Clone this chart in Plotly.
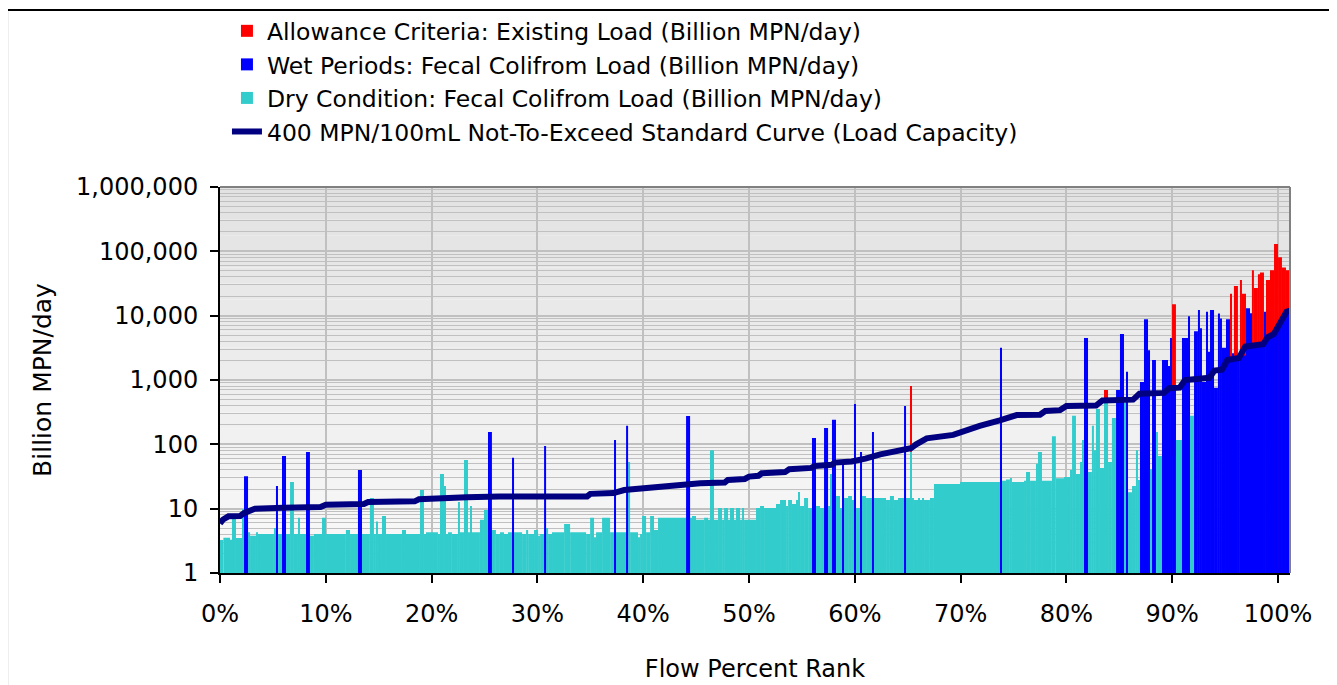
import plotly.graph_objects as go

# Flow percent rank ranges (start %, end %) and load in Billion MPN/day
DRY = [
    (0.00, 0.32, 3.26), (0.32, 0.95, 3.54), (0.95, 1.13, 3.3), (1.13, 1.51, 7.1),
    (1.51, 2.08, 3.5), (2.08, 2.27, 9.8), (2.27, 2.65, 4.0), (2.65, 2.84, 4.3),
    (2.84, 3.40, 3.8), (3.40, 3.59, 4.3), (3.59, 5.10, 4.05), (5.10, 5.29, 5.0),
    (5.29, 6.62, 4.05), (6.62, 6.99, 26), (6.99, 7.37, 4.05), (7.37, 7.56, 7.2),
    (7.56, 8.50, 4.05), (8.50, 8.88, 3.8), (8.88, 9.64, 4.05), (9.64, 10.02, 7.2),
    (10.02, 11.90, 4.05), (11.90, 12.29, 4.65), (12.29, 14.17, 4.05), (14.17, 14.55, 14.6),
    (14.55, 14.74, 4.05), (14.74, 14.93, 6.3), (14.93, 15.31, 4.05), (15.31, 15.69, 7.7),
    (15.69, 17.20, 4.05), (17.20, 17.58, 4.65), (17.58, 18.90, 4.05), (18.90, 19.28, 19.5),
    (19.28, 19.47, 4.05), (19.47, 20.60, 4.3), (20.60, 20.79, 4.05), (20.79, 21.17, 34.5),
    (21.17, 21.36, 22.5), (21.36, 21.55, 4.05), (21.55, 21.92, 4.3), (21.92, 22.49, 4.05),
    (22.49, 22.68, 12.7), (22.68, 23.06, 4.3), (23.06, 23.44, 57), (23.44, 23.63, 4.3),
    (23.63, 23.81, 11), (23.81, 24.57, 4.3), (24.57, 24.95, 6.7), (24.95, 25.33, 9.5),
    (25.33, 25.70, 4.3), (25.70, 26.08, 4.65), (26.08, 26.46, 4.05), (26.46, 26.84, 4.3),
    (26.84, 27.22, 4.05), (27.22, 28.55, 4.3), (28.55, 28.93, 4.05), (28.93, 29.12, 4.65),
    (29.12, 29.68, 4.05), (29.68, 30.06, 4.65), (30.06, 30.25, 3.8), (30.25, 30.82, 4.05),
    (30.82, 31.01, 5.0), (31.01, 31.38, 4.05), (31.38, 32.52, 4.3), (32.52, 33.09, 5.8),
    (33.09, 34.60, 4.3), (34.60, 34.98, 4.05), (34.98, 35.35, 7.2), (35.35, 35.54, 3.6),
    (35.54, 36.11, 4.3), (36.11, 36.87, 7.2), (36.87, 38.57, 4.3), (38.57, 38.76, 53),
    (38.76, 39.51, 4.3), (39.51, 39.70, 3.6), (39.70, 39.89, 4.05), (39.89, 40.27, 7.7),
    (40.27, 40.65, 4.3), (40.65, 41.02, 7.7), (41.02, 41.40, 4.65), (41.40, 44.61, 7.2),
    (44.61, 44.99, 7.7), (44.99, 45.75, 6.7), (45.75, 46.13, 7.2), (46.13, 46.31, 6.7),
    (46.31, 46.69, 81), (46.69, 47.07, 6.7), (47.07, 47.45, 10.2), (47.45, 47.64, 6.7),
    (47.64, 48.02, 10.2), (48.02, 48.20, 6.7), (48.20, 48.58, 10.2), (48.58, 48.77, 6.7),
    (48.77, 49.15, 10.2), (49.15, 49.34, 6.7), (49.34, 49.53, 10.2), (49.53, 50.66, 6.7),
    (50.66, 51.04, 10.2), (51.04, 51.42, 11), (51.42, 52.55, 10.2), (52.55, 52.93, 11.8),
    (52.93, 53.50, 13.6), (53.50, 53.69, 11), (53.69, 54.06, 13.6), (54.06, 54.44, 11.8),
    (54.44, 54.63, 13.6), (54.63, 54.82, 18.2), (54.82, 55.20, 11), (55.20, 55.58, 14.6),
    (55.58, 56.33, 10.2), (56.33, 56.71, 11), (56.71, 57.47, 10.2), (57.47, 57.66, 11),
    (57.66, 57.84, 34.5), (57.84, 58.60, 15.8), (58.60, 58.98, 10.2), (58.98, 59.36, 14.6),
    (59.36, 59.73, 15.8), (59.73, 60.11, 13.6), (60.11, 60.49, 10.2), (60.49, 61.06, 15.8),
    (61.06, 62.95, 14.6), (62.95, 63.32, 13.6), (63.32, 63.70, 15.8), (63.70, 64.08, 13.6),
    (64.08, 65.22, 14.6), (65.22, 65.40, 77), (65.40, 65.59, 14.6), (65.59, 65.97, 13.6),
    (65.97, 66.16, 14.6), (66.16, 66.35, 13.6), (66.35, 66.54, 14.6), (66.54, 67.10, 13.6),
    (67.10, 67.48, 14.6), (67.48, 69.94, 24.2), (69.94, 73.91, 26), (73.91, 74.29, 27.2),
    (74.29, 74.66, 28.4), (74.66, 74.85, 30), (74.85, 75.99, 26), (75.99, 76.18, 27.2),
    (76.18, 76.56, 37), (76.56, 77.12, 27.2), (77.12, 77.31, 50), (77.31, 77.69, 76),
    (77.69, 78.63, 27.2), (78.63, 79.00, 134), (79.00, 79.77, 29.7), (79.77, 80.34, 31),
    (80.34, 80.53, 40), (80.53, 80.90, 277), (80.90, 81.28, 34.5), (81.28, 81.47, 53),
    (81.47, 81.66, 117), (81.66, 82.41, 37), (82.41, 82.60, 194), (82.60, 82.79, 81),
    (82.79, 83.17, 355), (83.17, 83.55, 43), (83.55, 83.93, 490), (83.93, 84.30, 53),
    (84.30, 85.44, 256), (85.44, 85.82, 440), (85.82, 86.20, 18), (86.20, 86.57, 22.5),
    (86.57, 86.76, 81), (86.76, 87.90, 28), (87.90, 88.46, 41), (88.46, 88.65, 156),
    (88.65, 90.35, 66), (90.35, 91.68, 117), (91.68, 92.06, 277),
]

WET = [
    (2.27, 2.65, 32), (5.29, 5.48, 22.5), (5.86, 6.24, 66), (8.13, 8.50, 76),
    (13.04, 13.42, 40), (25.33, 25.70, 156), (27.60, 27.79, 62), (30.63, 30.82, 94),
    (37.24, 37.43, 117), (38.38, 38.57, 194), (44.05, 44.43, 276), (55.95, 56.33, 125),
    (57.09, 57.47, 180), (57.84, 58.22, 240), (58.79, 58.98, 50), (59.92, 60.11, 425),
    (60.49, 60.68, 76), (61.62, 61.81, 156), (64.65, 64.84, 394), (73.72, 73.91, 3160),
    (81.66, 82.04, 4500), (84.69, 85.06, 700), (85.06, 85.44, 5200), (85.63, 85.82, 1340),
    (86.95, 87.33, 930), (87.33, 87.71, 8800), (87.71, 87.90, 2900), (88.09, 88.46, 2050),
    (89.03, 89.60, 2050), (89.60, 89.79, 1650), (89.79, 89.98, 4500), (89.98, 90.35, 790),
    (90.92, 91.49, 4500), (91.49, 91.68, 9800), (92.06, 92.43, 5700), (92.43, 92.62, 12300),
    (92.62, 92.81, 6400), (92.81, 93.19, 930), (93.19, 93.38, 11500), (93.38, 93.57, 2750),
    (93.57, 93.95, 12300), (93.95, 94.32, 760), (94.32, 94.51, 10800), (94.51, 94.70, 9000),
    (94.70, 95.08, 3160), (95.08, 95.46, 8800), (95.46, 95.65, 2100), (95.65, 95.83, 2600),
    (95.83, 96.21, 2200), (96.21, 96.40, 2500), (96.40, 96.97, 2400), (96.97, 97.35, 13000),
    (97.35, 97.53, 10900), (97.53, 98.67, 3500), (98.67, 98.86, 11500), (98.86, 99.62, 4800),
    (99.62, 100.00, 6500), (100.00, 100.37, 8500), (100.37, 100.75, 10500),
    (100.75, 101.13, 11800),
]

EXISTING = [
    (65.22, 65.40, 810), (83.55, 83.93, 700), (89.98, 90.35, 15000),
    (95.46, 95.65, 22000), (95.83, 96.21, 29000), (96.40, 96.59, 36000),
    (96.59, 96.97, 22000), (97.53, 97.72, 51000), (97.72, 98.10, 27000),
    (98.10, 98.29, 44000), (98.29, 98.67, 47000), (98.86, 99.24, 36000),
    (99.24, 99.62, 51000), (99.62, 100.00, 130000), (100.00, 100.37, 81000),
    (100.37, 100.75, 56000), (100.75, 101.13, 51000),
]

CURVE_PCT = [
    0.0, 0.3, 0.8, 1.9, 2.3, 2.9, 3.3, 6.0, 9.5, 10.0, 13.6, 14.0, 18.4, 18.8,
    22.9, 23.3, 26.4, 34.7, 35.0, 37.2, 38.2, 39.8, 40.2, 42.1, 42.3, 45.0, 45.4,
    47.7, 48.0, 49.6, 50.0, 50.9, 51.2, 53.4, 53.8, 55.9, 56.2, 57.8, 58.1, 59.7,
    60.0, 61.0, 62.4, 63.0, 64.9, 65.3, 65.8, 66.8, 69.3, 69.8, 71.2, 71.8, 73.7,
    75.3, 77.5, 78.0, 79.4, 80.0, 82.8, 83.4, 86.3, 86.9, 89.2, 89.7, 90.7, 91.2,
    93.5, 94.0, 94.7, 95.2, 96.3, 96.9, 98.6, 99.0, 99.6, 100.0, 100.5, 100.8, 101.13,
]
CURVE_LOAD = [
    5.9, 6.8, 7.6, 7.7, 8.6, 9.6, 10.0, 10.3, 10.6, 11.5, 11.8, 12.7, 13.0, 14.0,
    14.3, 15.0, 15.4, 15.5, 17.0, 17.5, 19.5, 20.5, 21.5, 22.5, 23.2, 24.0, 24.8,
    25.5, 28, 29, 31.5, 32.5, 35.5, 37, 41, 43, 46, 48, 52, 54,
    56, 60, 70, 74, 84, 87, 100, 124, 140, 150, 189, 194, 236,
    285, 288, 330, 340, 394, 400, 480, 495, 610, 630, 745, 760, 1000,
    1080, 1400, 1450, 2050, 2200, 3300, 3600, 4600, 5200, 7000, 10000, 11500, 12000,
]

Y_TICKS = [1, 10, 100, 1000, 10000, 100000, 1000000]
Y_TICK_TEXT = ["1", "10", "100", "1,000", "10,000", "100,000", "1,000,000"]
X_TICKS = [0, 10, 20, 30, 40, 50, 60, 70, 80, 90, 100]
X_TICK_TEXT = ["0%", "10%", "20%", "30%", "40%", "50%", "60%", "70%", "80%", "90%", "100%"]

FONT = "DejaVu Sans"
GRID = "#c0c0c0"


def _bars(segments, name, color, rank):
    return go.Bar(
        x=[(a + b) / 2 for a, b, _ in segments],
        y=[v for _, _, v in segments],
        width=[b - a for a, b, _ in segments],
        name=name,
        marker=dict(color=color, line=dict(width=0)),
        legendrank=rank,
    )


fig = go.Figure()
fig.add_trace(_bars(EXISTING, "Allowance Criteria: Existing Load (Billion MPN/day)", "#FF0000", 1))
fig.add_trace(_bars(DRY, "Dry Condition: Fecal Colifrom Load (Billion MPN/day)", "#33CCCC", 3))
fig.add_trace(_bars(WET, "Wet Periods: Fecal Colifrom Load (Billion MPN/day)", "#0000FF", 2))
fig.add_trace(
    go.Scatter(
        x=CURVE_PCT,
        y=CURVE_LOAD,
        mode="lines",
        name="400 MPN/100mL Not-To-Exceed Standard Curve (Load Capacity)",
        line=dict(color="#000080", width=6),
        legendrank=4,
    )
)

# grey-to-white plot background
bands = 24
shapes = []
for i in range(bands):
    t = i / (bands - 1)
    c = int(226 + (250 - 226) * t)
    shapes.append(
        dict(
            type="rect", xref="x domain", yref="y domain",
            x0=0, x1=1, y0=1 - (i + 1) / bands, y1=1 - i / bands,
            fillcolor=f"rgb({c},{c},{c})", line=dict(width=0), layer="below",
        )
    )
# plot border on top/right, outer chart frame
shapes += [
    dict(type="line", xref="x domain", yref="y domain", x0=0, x1=1, y0=1, y1=1,
         line=dict(color="#808080", width=2)),
    dict(type="line", xref="x domain", yref="y domain", x0=1, x1=1, y0=0, y1=1,
         line=dict(color="#808080", width=2)),
    dict(type="rect", xref="paper", yref="paper", x0=-0.199, x1=1.038, y0=-0.35, y1=1.4585,
         line=dict(color="black", width=2), fillcolor="rgba(0,0,0,0)"),
]

# page body has an 8px margin, so the figure is a little smaller than the window
fig.update_layout(
    width=1329,
    height=677,
    margin=dict(l=212, r=47, t=179, b=112, autoexpand=False),
    paper_bgcolor="white",
    plot_bgcolor="white",
    barmode="overlay",
    font=dict(family=FONT, size=24, color="black"),
    shapes=shapes,
    showlegend=True,
    legend=dict(
        x=0.0065, xanchor="left", y=1.461, yanchor="top",
        bgcolor="rgba(0,0,0,0)", font=dict(size=23.5), tracegroupgap=0,
    ),
    xaxis=dict(
        range=[0, 101.13],
        tickvals=X_TICKS,
        ticktext=X_TICK_TEXT,
        showgrid=True, gridcolor=GRID, gridwidth=1.5,
        showline=True, linecolor="black", linewidth=2,
        ticks="outside", ticklen=8, tickwidth=2, tickcolor="black",
        ticklabelstandoff=10,
        zeroline=False,
        automargin=False,
        title=dict(text="Flow Percent Rank", standoff=33, font=dict(size=24)),
    ),
    yaxis=dict(
        type="log",
        range=[0, 6],
        tickvals=Y_TICKS,
        ticktext=Y_TICK_TEXT,
        showgrid=True, gridcolor=GRID, gridwidth=1.5,
        minor=dict(dtick="D1", showgrid=True, gridcolor=GRID, gridwidth=1.2, ticks=""),
        showline=True, linecolor="black", linewidth=2,
        ticks="outside", ticklen=8, tickwidth=2, tickcolor="black",
        ticklabelstandoff=7,
        zeroline=False,
        automargin=False,
        title=dict(text="Billion MPN/day", standoff=17, font=dict(size=25)),
    ),
)

fig.write_html("out.html")
